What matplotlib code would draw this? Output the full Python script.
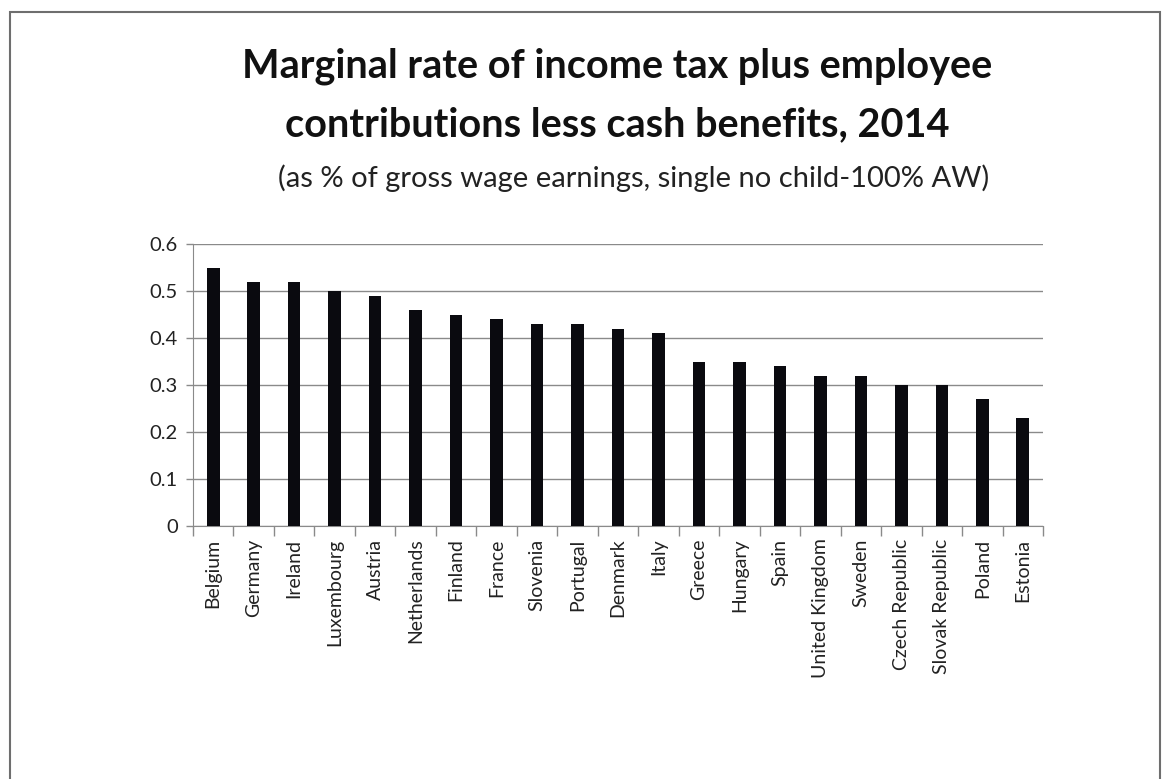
import matplotlib
matplotlib.use("Agg")
import matplotlib.pyplot as plt
from matplotlib.patches import Rectangle
import numpy as np

countries = ["Belgium", "Germany", "Ireland", "Luxembourg", "Austria", "Netherlands",
             "Finland", "France", "Slovenia", "Portugal", "Denmark", "Italy", "Greece",
             "Hungary", "Spain", "United Kingdom", "Sweden", "Czech Republic",
             "Slovak Republic", "Poland", "Estonia"]
values = [0.55, 0.52, 0.52, 0.50, 0.49, 0.46, 0.45, 0.44, 0.43, 0.43, 0.42, 0.41,
          0.35, 0.35, 0.34, 0.32, 0.32, 0.30, 0.30, 0.27, 0.23]
yticks = [0, 0.1, 0.2, 0.3, 0.4, 0.5, 0.6]
ytick_labels = ["0", "0.1", "0.2", "0.3", "0.4", "0.5", "0.6"]

plt.rcParams['font.family'] = ['Lato', 'DejaVu Sans']
W, H = 1166, 779
fig = plt.figure(figsize=(W / 100, H / 100), dpi=100)
fig.patch.set_facecolor("white")

# outer frame
fig.patches.append(Rectangle((10 / W, -0.02), (1160 - 10) / W, (H - 12) / H + 0.02,
                             transform=fig.transFigure, fill=False,
                             edgecolor="#6e6e6e", linewidth=1.5))

ax = fig.add_axes([193 / W, 1 - 526 / H, (1043 - 193) / W, (526 - 244) / H])
x = np.arange(len(countries))
ax.bar(x, values, width=0.31, color="#0a0a0f", zorder=3)
ax.set_xlim(-0.5, len(countries) - 0.5)
ax.set_ylim(0, 0.6)
ax.set_yticks(yticks)
ax.set_yticklabels(ytick_labels, fontsize=14.5, color="#222222")
ax.yaxis.grid(True, color="#8a8a8a", linewidth=1.0, zorder=0)
ax.set_axisbelow(True)
ax.set_xticks(x)
ax.set_xticklabels(countries, rotation=90, fontsize=14, color="#222222")
ax.tick_params(axis="x", length=0, pad=9)
ax.set_xticks(np.arange(-0.5, len(countries)), minor=True)
ax.tick_params(axis="x", which="minor", length=7, color="#8a8a8a", width=1)
ax.tick_params(axis="y", length=5, color="#8a8a8a", width=1, pad=6)
for s in ["top", "right"]:
    ax.spines[s].set_visible(False)
ax.spines["left"].set_color("#8a8a8a")
ax.spines["bottom"].set_color("#8a8a8a")

fig.text(617 / W, 1 - 66 / H, "Marginal rate of income tax plus employee",
         ha="center", va="center", fontsize=28.5, fontweight="bold", color="#111111")
fig.text(617 / W, 1 - 125 / H, "contributions less cash benefits, 2014",
         ha="center", va="center", fontsize=28.5, fontweight="bold", color="#111111")
fig.text(634 / W, 1 - 178 / H, "(as % of gross wage earnings, single no child-100% AW)",
         ha="center", va="center", fontsize=21, color="#222222")

fig.savefig("out.png", dpi=100, facecolor="white")
